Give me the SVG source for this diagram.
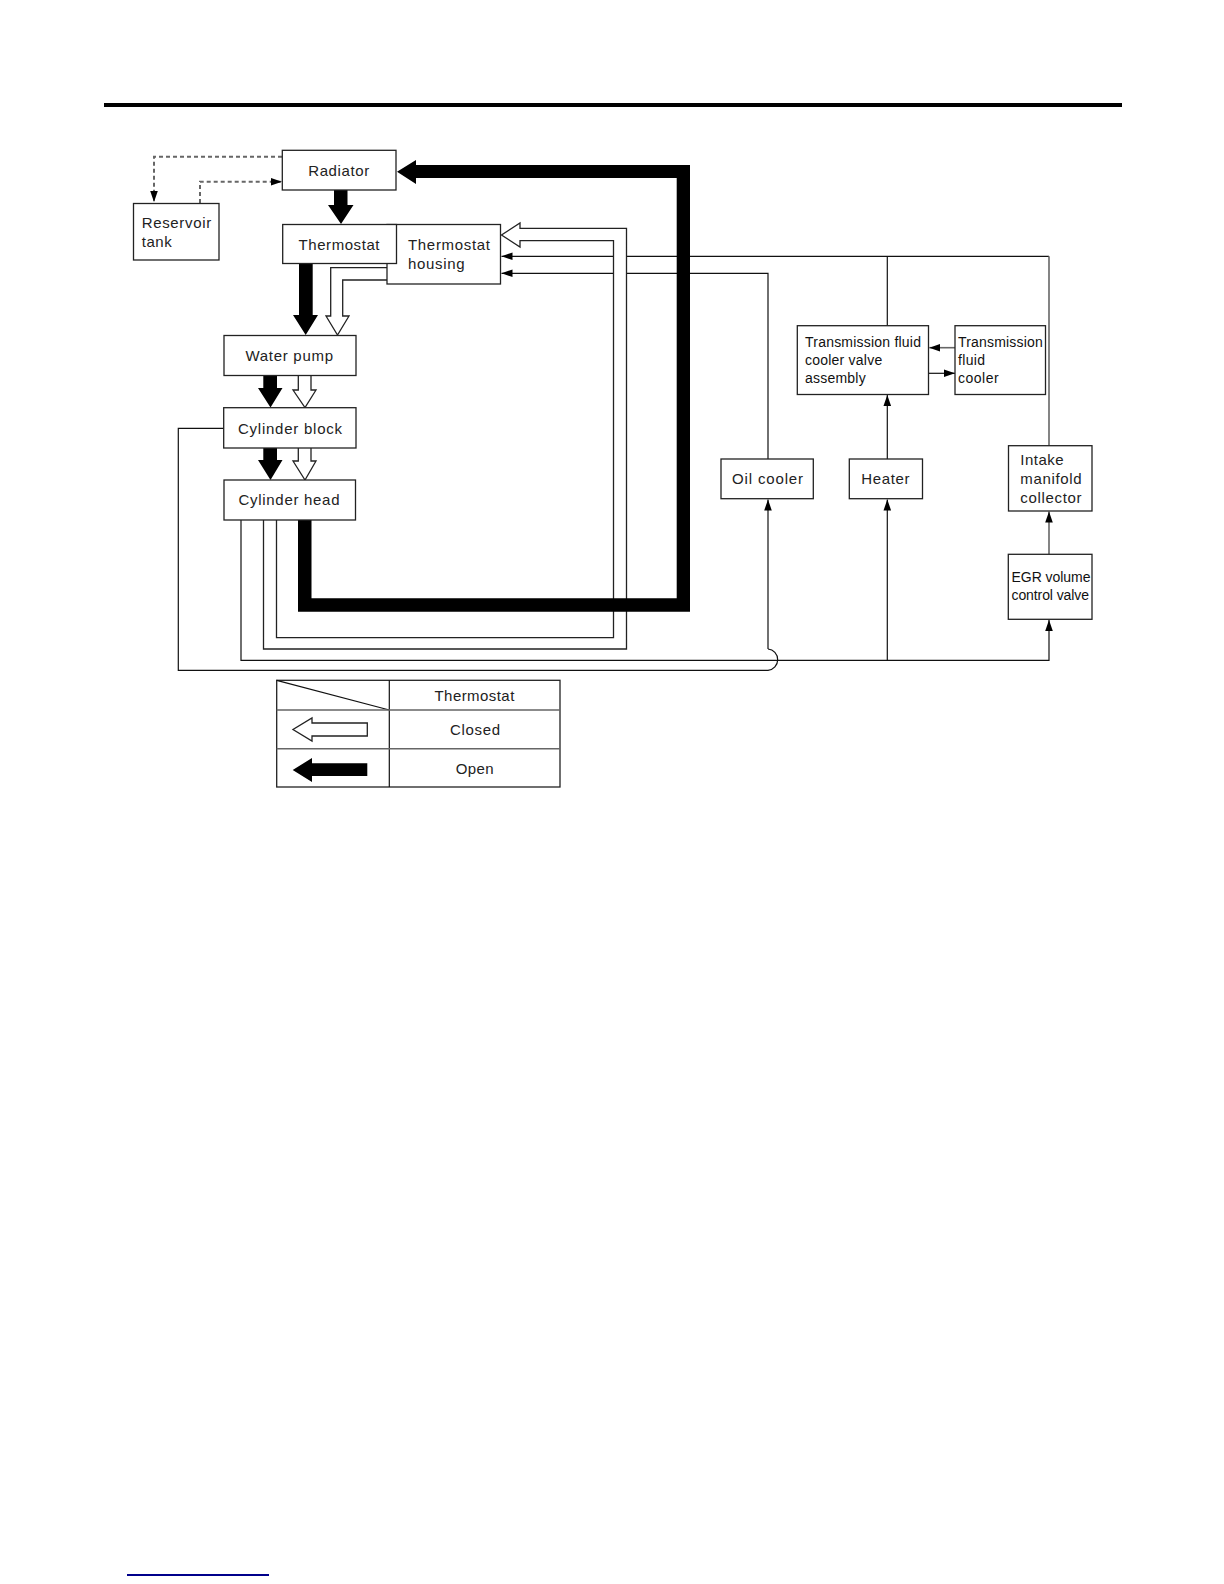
<svg xmlns="http://www.w3.org/2000/svg" width="1224" height="1584" viewBox="0 0 1224 1584">
<style>
text{font-family:"Liberation Sans",Arial,sans-serif;font-size:15px;fill:#222}
.s{font-size:14px;fill:#111}
.b{fill:#fff;stroke:#222;stroke-width:1.3}
.l{fill:none;stroke:#111;stroke-width:1.2}
.g{fill:none;stroke:#666;stroke-width:1.6}
.d{fill:none;stroke:#666;stroke-width:2;stroke-dasharray:4 3}
.k{fill:#000;stroke:none}
.w{fill:#fff;stroke:#222;stroke-width:1.3}
</style>
<defs>
<marker id="a" markerUnits="userSpaceOnUse" markerWidth="12" markerHeight="10" refX="11" refY="5" orient="auto"><path d="M0 1.2L11 5L0 8.8Z" fill="#000"/></marker>
</defs>
<rect width="1224" height="1584" fill="#fff"/>
<rect x="104" y="103" width="1018" height="4" fill="#000"/>
<rect x="127" y="1574" width="142" height="2" fill="#00008b"/>
<g id="connectors">
<path class="d" d="M282 156.7H154V202" marker-end="url(#a)"/>
<path class="d" d="M200 203V181.7H282" marker-end="url(#a)"/>
<path class="l" d="M613.5 256.3H501.5" marker-end="url(#a)"/>
<path class="l" d="M613.5 273.3H501.5" marker-end="url(#a)"/>
<path class="l" d="M626.5 256.3H1049"/>
<path class="l" d="M626.5 273.3H768V459"/>
<path class="l" d="M887.3 256.3V325.7"/>
<path class="g" d="M1049 256.3V445.7"/>
<path class="l" d="M224 428.3H178.3V670.3H768A10.7 10.7 0 0 0 768 649"/>
<path class="l" d="M768 649V499.5" marker-end="url(#a)"/>
<path class="l" d="M241 520V660.3H1049V620" marker-end="url(#a)"/>
<path class="l" d="M887.3 660.3V499.5" marker-end="url(#a)"/>
<path class="l" d="M887.3 459V395" marker-end="url(#a)"/>
<path class="g" d="M1049 554V511.5" marker-end="url(#a)"/>
<path class="g" d="M955 347.7H929.3" marker-end="url(#a)"/>
<path class="l" d="M928.5 373.3H955" marker-end="url(#a)"/>
<path class="w" style="fill:none" d="M263.5 520V649H626.5V228.3H520V223L501.5 235L520 247V240.7H613.5V637.7H276.5V520"/>
<path class="k" d="M298 520H311.5V598.3H676.7V178H416V184L397 171.7L416 160V165H690V611.7H298Z"/>
<path class="k" d="M334 190H347.5V205H353.5L341 224L328 205H334Z"/>
<path class="k" d="M299 263.5H312.7V315H318L305.7 335L293 315H299Z"/>
<path class="w" d="M387 267.7H330.7V316H326L337.5 335L349 316H342.7V280H387"/>
<path class="k" d="M263.3 375.5H277V388H282.5L270.5 407.5L258 388H263.3Z"/>
<path class="w" d="M298.3 375.5V390H293L305 407.5L316 390H311V375.5"/>
<path class="k" d="M263.3 448H277V460H282.5L270.5 480L258 460H263.3Z"/>
<path class="w" d="M298.3 448V461H293L305 480L316 461H311V448"/>
</g>
<g id="radiator"><rect class="b" x="282.3" y="150.3" width="113.7" height="39.7"/><text x="308.2" y="176" textLength="61">Radiator</text></g>
<g id="reservoir-tank"><rect class="b" x="133.5" y="203.5" width="85.5" height="56.5"/><text x="141.7" y="228.3" textLength="69.5">Reservoir</text><text x="141.7" y="247.3" textLength="30">tank</text></g>
<g id="thermostat-housing"><rect class="b" x="387" y="224.5" width="113.5" height="59.5"/><text x="408" y="250" textLength="82">Thermostat</text><text x="408" y="269" textLength="56.5">housing</text></g>
<g id="thermostat"><rect class="b" x="282.7" y="224.5" width="113.8" height="39"/><text x="298.5" y="250" textLength="81">Thermostat</text></g>
<g id="water-pump"><rect class="b" x="224" y="335.5" width="132" height="40"/><text x="245.5" y="361" textLength="87.5">Water pump</text></g>
<g id="cylinder-block"><rect class="b" x="223.7" y="407.7" width="132.3" height="40.3"/><text x="238" y="433.7" textLength="104">Cylinder block</text></g>
<g id="cylinder-head"><rect class="b" x="224" y="480" width="131.5" height="40"/><text x="238.5" y="505" textLength="101">Cylinder head</text></g>
<g id="oil-cooler"><rect class="b" x="721" y="459" width="92.3" height="39.7"/><text x="732" y="484.3" textLength="71">Oil cooler</text></g>
<g id="heater"><rect class="b" x="849.3" y="459" width="73.2" height="39.7"/><text x="861.3" y="484.3" textLength="48.2">Heater</text></g>
<g id="valve-assembly"><rect class="b" x="797.3" y="325.7" width="131.2" height="68.8"/><text class="s" x="805" y="347.3" textLength="116">Transmission fluid</text><text class="s" x="805" y="365.3" textLength="77.2">cooler valve</text><text class="s" x="805" y="383.3" textLength="60.7">assembly</text></g>
<g id="fluid-cooler"><rect class="b" x="955" y="325.7" width="90.5" height="68.8"/><text class="s" x="958" y="347.3" textLength="84.7">Transmission</text><text class="s" x="958" y="365.3" textLength="27">fluid</text><text class="s" x="958" y="383.3" textLength="40.7">cooler</text></g>
<g id="intake-manifold"><rect class="b" x="1008.5" y="445.7" width="83.5" height="65.3"/><text x="1020.3" y="465" textLength="43.3">Intake</text><text x="1020.3" y="484" textLength="61.3">manifold</text><text x="1020.3" y="503" textLength="61.3">collector</text></g>
<g id="egr-valve"><rect class="b" x="1008.3" y="554.3" width="83.7" height="65"/><text class="s" x="1011.5" y="582" textLength="79">EGR volume</text><text class="s" x="1011.5" y="600.3" textLength="77.5">control valve</text></g>
<g id="legend">
<rect class="b" x="276.7" y="680.3" width="283.3" height="106.7"/>
<path class="l" d="M389.3 680.3V787M276.7 680.3L389.3 710"/>
<path class="g" d="M276.7 710H560M276.7 748.7H560"/>
<text x="434.5" y="701" textLength="79.8">Thermostat</text>
<text x="450" y="735.3" textLength="50">Closed</text>
<text x="455.7" y="774" textLength="37.8">Open</text>
<path class="w" d="M367.3 723H312V718L293 729.5L312 741V736H367.3Z"/>
<path class="k" d="M367.3 763.3H312V758L292.7 770L312 782V776H367.3Z"/>
</g>
</svg>
